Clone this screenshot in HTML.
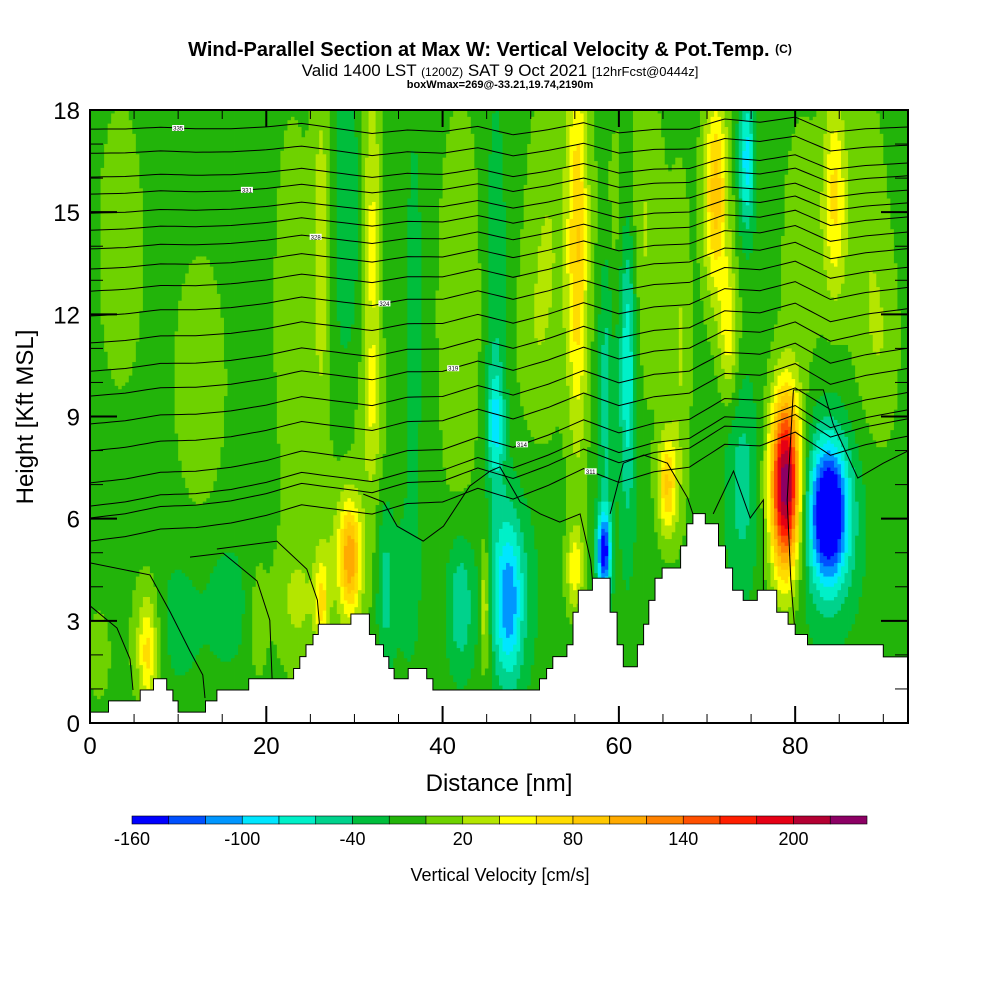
<!DOCTYPE html>
<html><head><meta charset="utf-8">
<style>
html,body{margin:0;padding:0;background:#fff;}
svg{display:block;font-family:"Liberation Sans",Arial,sans-serif;}
</style></head>
<body>
<svg id="chart" width="1000" height="1000" viewBox="0 0 1000 1000">
  <rect x="0" y="0" width="1000" height="1000" fill="#fff"/>
  <text x="490" y="56" text-anchor="middle" font-size="20" font-weight="bold">Wind-Parallel Section at Max W: Vertical Velocity &amp; Pot.Temp. <tspan font-size="12" dy="-3">(C)</tspan></text>
  <text x="500" y="76" text-anchor="middle" font-size="17">Valid 1400 LST <tspan font-size="12">(1200Z)</tspan> SAT 9 Oct 2021 <tspan font-size="13">[12hrFcst@0444z]</tspan></text>
  <text x="500" y="88" text-anchor="middle" font-size="11" font-weight="bold">boxWmax=269@-33.21,19.74,2190m</text>
  <defs><clipPath id="plotclip"><rect x="90" y="110" width="818" height="613"/></clipPath></defs>
  <g id="field" clip-path="url(#plotclip)"></g>
  <g id="isentropes" clip-path="url(#plotclip)"></g>
  <g id="terrain" clip-path="url(#plotclip)"></g>
  <g id="ticks"></g>
  <rect x="90" y="110" width="818" height="613" fill="none" stroke="#000" stroke-width="2"/>
  <g id="ylabels" font-size="24" text-anchor="end"></g>
  <g id="xlabels" font-size="24" text-anchor="middle"></g>
  <text transform="translate(33,417) rotate(-90)" text-anchor="middle" font-size="24">Height [Kft MSL]</text>
  <text x="499" y="791" text-anchor="middle" font-size="24">Distance [nm]</text>
  <g id="colorbar"></g>
  <g id="cblabels" font-size="18" text-anchor="middle"></g>
  <text x="500" y="881" text-anchor="middle" font-size="18">Vertical Velocity [cm/s]</text>
</svg>
<script>
// ---- data ----
const binColors = ['#0000ff','#0050ff','#0096ff','#00e6ff','#00f0c8','#00d28c','#00be3c','#22b40a','#6ed200','#b4e600','#ffff00','#ffdc00','#ffc800','#ffaa00','#ff8200','#ff5000','#ff1e00','#e60014','#b40032','#8c0064'];
const binMin = -160;
const binStep = 20;
const cbLabels = [-160,-100,-40,20,80,140,200];
const baseW = -10;
// velocity features (nm, kft, width nm, depth kft, amplitude cm/s)
const featX  = [3.5,12.5,23,26.3,29,32,32,36.8,42,46,46, 1,6.5,6.5,10,15.5,19,23.5,26.3,29.5,29,33.5,36,42,44.8,47.5,47.5, 52,55.3,55,58.3,58.5,61,65.5,63,71,72.5,74.5,74,78.9,83.8,83.8,84.5,88,67, 60,81,90,50];
const featZ  = [14,10,12,14,15,14,9,12,12,8.8,12, 2,2,2.5,3,3.5,3,3.5,3.5,4.8,5,4,4,3.5,3.5,3.5,4, 14,14,4.5,5,10,11,7,14,15.5,11.5,16.5,7,7,6.2,6,15.5,14,11, 15,14,11,11];
const featSX = [3,3.5,2.5,1.1,1.5,1,1.8,1,2.5,1,1.2, 1.5,1,2,2.5,2.5,1.2,2.5,0.8,1.2,3,1,1.5,1.5,0.6,1.5,3, 2.5,1.2,1,0.8,0.8,1,1.1,2.5,1.4,1.1,0.9,1.8,1.7,1.9,3.2,1.3,2.5,1.2, 3,2.5,2,2];
const featSZ = [5,4.5,7,6,4,6,2,6,6,1.5,6, 1.5,1.5,2,1.8,1.8,2,2,1.3,1.6,2.5,2.5,2.5,2,2,2.2,3, 5,6,1.2,1.2,5,5,1.5,5,3,2,2,3,2.6,1.8,2.8,3,5,5, 3,4,3,3];
const featAmp= [20,20,20,40,-30,55,25,-20,30,-60,-30, 20,55,25,-25,-25,20,30,60,100,30,-40,-20,-50,60,-75,-35, 30,85,60,-135,-40,-75,90,25,100,60,-80,-40,250,-130,-70,70,25,30, 20,25,20,15];
// terrain steps (start nm, height kft)
const terrX = [0,2.1,5.7,7.2,8.7,9.4,10.0,13.1,14.4,18.0,23.1,23.8,24.5,25.3,25.9,29.6,31.7,32.4,33.3,33.9,34.5,36.1,38.2,38.9,51,51.8,52.5,54.1,54.8,55.4,57.0,59.0,59.8,60.5,62.1,62.8,63.4,64.1,64.9,67.0,67.7,68.4,69.8,71.3,72.1,72.9,74.1,75.7,77.9,79.2,80,81.4,90];
const terrH = [0.32,0.65,0.97,1.3,0.97,0.65,0.32,0.65,0.97,1.3,1.6,1.95,2.3,2.6,2.9,3.2,2.6,2.3,1.95,1.6,1.3,1.6,1.3,0.97,1.3,1.6,1.95,2.3,3.25,3.9,4.25,3.25,2.3,1.65,2.3,2.9,3.6,4.25,4.55,5.2,5.85,6.15,5.85,5.2,4.55,3.9,3.6,3.9,3.25,2.9,2.6,2.3,1.94];
// isentropes: height at left edge (kft)
const thetaLeftZ = [17.44,16.73,16.03,15.53,14.97,14.47,13.92,13.33,12.68,11.95,11.16,10.33,9.6,8.78,7.99,7.05,6.37,6.02,5.34];
const wigX = [0,4,8,12,16,20,24,28,32,36,40,44,48,52,56,60,64,68,72,76,80,84,88,92.8];
const wigD = [0,0,0.05,0,0,0.05,0.15,0,-0.15,-0.05,-0.1,0.05,-0.2,-0.05,0.15,-0.15,-0.05,-0.05,0.25,0.15,0.3,-0.15,-0.05,0];
const lowLineA = [[0,4.70],[6.8,4.35],[9.1,3.26],[11.35,2.11],[12.8,1.41],[13.05,0.73]];
const lowLineB = [[0,3.44],[3.06,2.79],[4.54,1.88],[4.88,0.97]];
const lowLineC = [[11.35,4.87],[15.1,4.99],[18.96,4.17],[20.4,3.02],[20.66,1.29]];
const lowLineD = [[14.4,5.11],[21.2,5.34],[24.6,4.52],[25.8,3.61],[26.1,2.67]];
const lowLineE = [[31.0,6.72],[33.3,6.49],[34.85,5.78],[37.8,5.34],[40.1,5.78],[43.1,6.96],[45.4,7.4],[46.5,7.52],[48.8,6.49],[51.1,6.14],[53.3,5.9],[55.6,6.14],[56.8,4.76],[57.0,4.2]];
const lowLineF = [[59.0,6.14],[60.5,7.63],[62.8,7.87],[65.5,7.63],[67.8,6.61],[68.4,6.14]];
const lowLineG = [[70.7,6.14],[73.0,7.4],[74.9,6.02],[76.4,6.55],[76.4,3.61]];
const lowLineH = [[79.8,9.78],[79.1,6.55],[79.5,4.2],[80.0,2.58]];
const lowLineI = [[79.8,9.78],[83.2,9.78],[84.3,8.78],[87.1,7.19],[90.0,7.63],[92.8,7.99]];
const lowLines = [lowLineA,lowLineB,lowLineC,lowLineD,lowLineE,lowLineF,lowLineG,lowLineH,lowLineI];
const yTicks = [0,3,6,9,12,15,18];
const xTicks = [0,20,40,60,80];

// ---- scales ----
const NS='http://www.w3.org/2000/svg';
const xMax=92.8, zMax=18;
const X = nm => 90 + nm*818/xMax;
const Y = kz => 723 - kz*613/zMax;
function mk(tag, parent){const e=document.createElementNS(NS,tag);parent.appendChild(e);return e;}
function field(x,z){let v=baseW;for(let i=0;i<featX.length;i++){const dx=(x-featX[i])/featSX[i],dz=(z-featZ[i])/featSZ[i];v+=featAmp[i]*Math.exp(-dx*dx-dz*dz);}return v;}
function bin(v){let b=Math.floor((v-binMin)/binStep);return Math.max(0,Math.min(binColors.length-1,b));}

// ---- field ----
const gF=document.getElementById('field');
const dx=0.4, dz=0.1;
for(let x0=0;x0<xMax;x0+=dx){
  const xm=x0+dx/2;
  let runTop=zMax, runBin=null;
  const zs=[];
  for(let z=zMax-dz/2; z>0; z-=dz) zs.push(z);
  for(let k=0;k<=zs.length;k++){
    const b = k<zs.length ? bin(field(xm,zs[k])) : -1;
    if(runBin===null){runBin=b;runTop=zMax;continue;}
    if(b!==runBin){
      const zb = k<zs.length ? zs[k]+dz/2 : 0;
      const r=mk('rect',gF);
      
      
      r.setAttribute('x',X(x0).toFixed(2));
      r.setAttribute('width',(X(x0+dx)-X(x0)+0.4).toFixed(2));
      r.setAttribute('y',Y(runTop).toFixed(2));
      r.setAttribute('height',(Y(zb)-Y(runTop)+0.4).toFixed(2));
      r.setAttribute('fill',binColors[runBin]);
      runBin=b; runTop=zb;
    }
  }
}

// ---- isentropes ----
const gI=document.getElementById('isentropes');
function wig(x){for(let i=0;i<wigX.length-1;i++){if(x<=wigX[i+1]){const t=(x-wigX[i])/(wigX[i+1]-wigX[i]);return wigD[i]+t*(wigD[i+1]-wigD[i]);}}return 0;}
thetaLeftZ.forEach((z0,li)=>{
  const z1 = 17.5-(17.44-z0)*0.75;
  const amp = 1 + Math.max(0,(15-z0)/12);
  let d='';
  for(let x=0;x<=xMax+0.01;x+=0.8){
    const z=z0+(z1-z0)*x/xMax+wig(x)*amp;
    d+=(x===0?'M':'L')+X(x).toFixed(1)+','+Y(z).toFixed(1);
  }
  const p=mk('path',gI);
  
  
  p.setAttribute('d',d);p.setAttribute('fill','none');p.setAttribute('stroke','#000');p.setAttribute('stroke-width','1');
  if(li%3===0){
    const lx=10+li*2.6, lz=z0+(z1-z0)*lx/xMax+wig(lx)*amp;
    const b=mk('rect',gI);
    
    
    b.setAttribute('x',X(lx)-6);b.setAttribute('y',Y(lz)-3);b.setAttribute('width',12);b.setAttribute('height',6);b.setAttribute('fill','#fff');
    const t=mk('text',gI);
    
    
    t.setAttribute('x',X(lx));t.setAttribute('y',Y(lz)+2.5);t.setAttribute('font-size','6');t.setAttribute('text-anchor','middle');
    t.textContent=String(300+Math.round((z0)*2));
  }
});
lowLines.forEach(pts=>{
  const p=mk('path',gI);
  
  
  p.setAttribute('d',pts.map((q,i)=>(i?'L':'M')+X(q[0]).toFixed(1)+','+Y(q[1]).toFixed(1)).join(''));
  p.setAttribute('fill','none');p.setAttribute('stroke','#000');p.setAttribute('stroke-width','1');
});

// ---- terrain ----
const gT=document.getElementById('terrain');
let td='M'+X(0)+','+Y(0);
for(let i=0;i<terrX.length;i++){
  const xe = i<terrX.length-1?terrX[i+1]:xMax+1;
  td+='L'+X(terrX[i]).toFixed(1)+','+Y(terrH[i]).toFixed(1)+'L'+X(xe).toFixed(1)+','+Y(terrH[i]).toFixed(1);
}
td+='L'+X(xMax+1)+','+Y(0)+'Z';
const tp=mk('path',gT);


tp.setAttribute('d',td);tp.setAttribute('fill','#fff');tp.setAttribute('stroke','#000');tp.setAttribute('stroke-width','1');

// ---- ticks & labels ----
const gK=document.getElementById('ticks');
function line(x1,y1,x2,y2,w,name){const l=mk('line',gK);
  
  
  l.setAttribute('x1',x1);l.setAttribute('y1',y1);l.setAttribute('x2',x2);l.setAttribute('y2',y2);l.setAttribute('stroke','#000');l.setAttribute('stroke-width',w);}
for(let k=0;k<=zMax;k++){
  const major=k%3===0, L=major?27:13, w=major?2:1;
  line(90,Y(k),90+L,Y(k),w,'y-tick');
  line(908,Y(k),908-L,Y(k),w,'y-tick-right');
}
for(let n=5;n<xMax;n+=5){
  const major=n%20===0, L=major?17:9, w=major?2:1;
  line(X(n),723,X(n),723-L,w,'x-tick');
  line(X(n),110,X(n),110+L,w,'x-tick-top');
}
const gY=document.getElementById('ylabels');
yTicks.forEach(v=>{const t=mk('text',gY);
  
  
  t.setAttribute('x',80);t.setAttribute('y',Y(v)+9);t.textContent=v;});
const gX=document.getElementById('xlabels');
xTicks.forEach(v=>{const t=mk('text',gX);
  
  
  t.setAttribute('x',X(v));t.setAttribute('y',754);t.textContent=v;});

// ---- colorbar ----
const gC=document.getElementById('colorbar');
const cbX0=132, cbW=735, cbY=816, cbH=8, seg=cbW/binColors.length;
binColors.forEach((c,i)=>{const r=mk('rect',gC);
  
  
  r.setAttribute('x',cbX0+i*seg);r.setAttribute('y',cbY);r.setAttribute('width',seg);r.setAttribute('height',cbH);
  r.setAttribute('fill',c);r.setAttribute('stroke','#000');r.setAttribute('stroke-width','0.6');});
const gL=document.getElementById('cblabels');
cbLabels.forEach(v=>{const t=mk('text',gL);
  
  
  t.setAttribute('x',cbX0+(v-binMin)/binStep*seg);t.setAttribute('y',845);t.textContent=v;});
</script>
</body></html>
